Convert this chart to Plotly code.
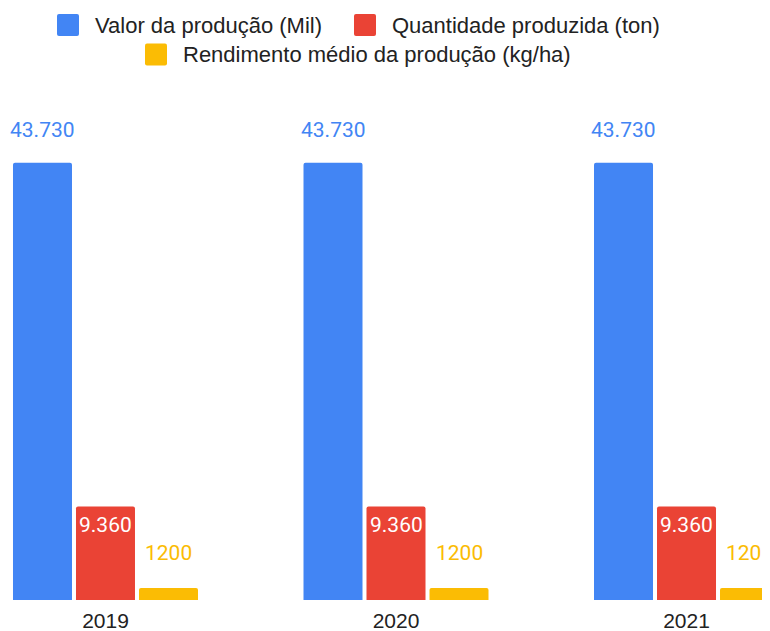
import plotly.graph_objects as go

years = ["2019", "2020", "2021"]
valor = [43730, 43730, 43730]
quantidade = [9360, 9360, 9360]
rendimento = [1200, 1200, 1200]

names = ["Valor da produção (Mil)", "Quantidade produzida (ton)",
         "Rendimento médio da produção (kg/ha)"]
colors = ["#4285F4", "#EA4335", "#FBBC04"]
values = [valor, quantidade, rendimento]

LABEL_FONT = "Roboto, Arial, sans-serif"
AXIS_FONT = "Liberation Sans, Arial, sans-serif"
W, H = 762, 623
M_T, M_B = 92, 31
PLOT_H = H - M_T - M_B
BARGAP = 0.3494
GROUPGAP = 0.0635

fig = go.Figure()
for name, vals, color in zip(names, values, colors):
    fig.add_trace(go.Bar(x=years, y=vals, name=name, marker_color=color,
                         marker_line_width=0, hoverinfo="skip",
                         showlegend=False))

def fmt_dot(v):
    return f"{v:,}".replace(",", ".")

slot = (1 - BARGAP) / 3
annotations = []
shapes = []
for i, y in enumerate(years):
    annotations.append(dict(x=i - slot, y=valor[i], text=fmt_dot(valor[i]),
                            showarrow=False, yshift=33, xref="x", yref="y",
                            font=dict(family=LABEL_FONT, size=21, color=colors[0])))
    annotations.append(dict(x=i, y=quantidade[i], text=fmt_dot(quantidade[i]),
                            showarrow=False, yshift=-19, xref="x", yref="y",
                            font=dict(family=LABEL_FONT, size=21, color="#FFFFFF")))
    annotations.append(dict(x=i + slot, y=rendimento[i], text=str(rendimento[i]),
                            showarrow=False, yshift=35, xref="x", yref="y",
                            font=dict(family=LABEL_FONT, size=21, color=colors[2])))

# custom two-row centred legend, positions in figure pixels
def px_x(p):
    return p / W

def px_y(p):
    return (H - M_B - p) / PLOT_H

legend_pos = [(49, 17), (346, 17), (137, 46.5)]
SQ = 22
for (lx, cy), name, color in zip(legend_pos, names, colors):
    x0, x1 = lx, lx + SQ
    y0, y1 = cy - SQ / 2, cy + SQ / 2
    r = 2
    path = (f"M {px_x(x0 + r)},{px_y(y0)} L {px_x(x1 - r)},{px_y(y0)} "
            f"Q {px_x(x1)},{px_y(y0)} {px_x(x1)},{px_y(y0 + r)} "
            f"L {px_x(x1)},{px_y(y1 - r)} Q {px_x(x1)},{px_y(y1)} {px_x(x1 - r)},{px_y(y1)} "
            f"L {px_x(x0 + r)},{px_y(y1)} Q {px_x(x0)},{px_y(y1)} {px_x(x0)},{px_y(y1 - r)} "
            f"L {px_x(x0)},{px_y(y0 + r)} Q {px_x(x0)},{px_y(y0)} {px_x(x0 + r)},{px_y(y0)} Z")
    shapes.append(dict(type="path", path=path, xref="paper", yref="paper",
                       fillcolor=color, line=dict(width=0), layer="above"))
    annotations.append(dict(x=px_x(x1 + 14), y=px_y(cy), xref="paper", yref="paper",
                            xanchor="left", yanchor="middle", showarrow=False,
                            text=name,
                            font=dict(family=AXIS_FONT, size=22, color="#222222")))

fig.update_layout(
    width=W, height=H,
    margin=dict(l=0, r=0, t=M_T, b=M_B),
    paper_bgcolor="white", plot_bgcolor="white",
    barmode="group", bargap=BARGAP, bargroupgap=GROUPGAP,
    barcornerradius=2,
    showlegend=False,
    xaxis=dict(type="category", range=[-0.3356, 2.2874], showgrid=False,
               showline=False, zeroline=False, ticks="", ticklabelstandoff=6,
               tickfont=dict(family=AXIS_FONT, size=21, color="#222222")),
    yaxis=dict(range=[0, 50000], showgrid=False, showticklabels=False,
               zeroline=False, showline=False, ticks=""),
    annotations=annotations,
    shapes=shapes,
)

fig.write_html("out.html")
